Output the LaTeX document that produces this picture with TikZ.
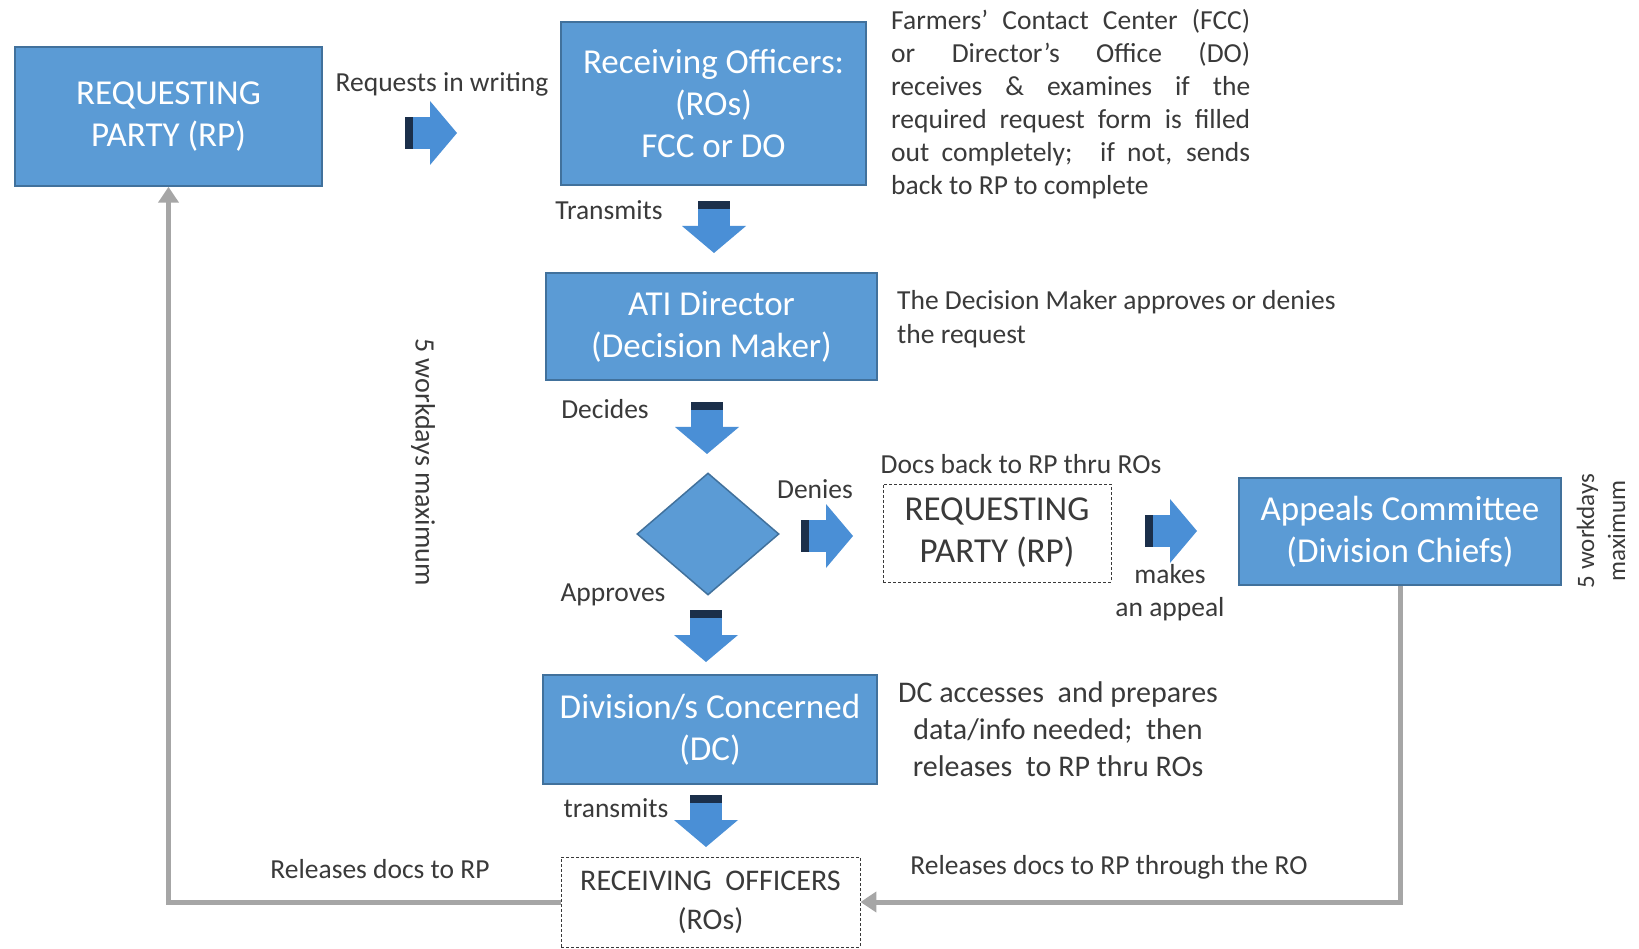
\documentclass[tikz,border=0pt]{standalone}
\usepackage{fontspec}
\setmainfont{Carlito}
\usetikzlibrary{arrows.meta,shapes.geometric}
\definecolor{boxblue}{HTML}{5B9BD5}
\definecolor{boxedge}{HTML}{41719C}
\definecolor{arrblue}{HTML}{4A8FD6}
\definecolor{arrdark}{HTML}{1B2F4A}
\definecolor{txt}{HTML}{3A3A3A}
\definecolor{linegray}{HTML}{A6A6A6}
\begin{document}
\begin{tikzpicture}[x=1pt,y=-1pt,
  bluebox/.style={draw=boxedge, line width=1.5pt, fill=boxblue, text=white, align=center, inner sep=0pt, font=\fontsize{35}{42}\selectfont},
  dashbox/.style={draw=txt, dash pattern=on 3pt off 2pt, line width=0.9pt, text=txt, align=center, inner sep=0pt, font=\fontsize{35}{42}\selectfont},
  lbl/.style={text=txt, inner sep=0pt, font=\fontsize{27.5}{33}\selectfont},
  conn/.style={draw=linegray, line width=5pt, -{Triangle[width=20pt,length=16pt]}},
  pics/blockarrow/.style={code={
     \fill[arrblue] (-26,-16) rectangle (1,16);
     \fill[arrblue] (-1,-32) -- (26,0) -- (-1,32) -- cycle;
     \fill[arrdark] (-26,-16) rectangle (-18,16);
  }}]
\useasboundingbox[fill=white] (0,0) rectangle (1639,949);

% boxes
\node[bluebox, minimum width=307pt, minimum height=139pt] (rp) at (168.5,116.5) {REQUESTING\\PARTY (RP)};
\node[bluebox, minimum width=305pt, minimum height=163pt] (ro) at (713.5,103.5) {Receiving Officers:\\(ROs)\\FCC or DO};
\node[bluebox, minimum width=331pt, minimum height=107pt] (ati) at (711.5,326.5) {ATI Director\\(Decision Maker)};
\node[bluebox, diamond, minimum width=142pt, minimum height=122pt] (dec) at (708,534) {};
\node[dashbox, minimum width=228pt, minimum height=98pt] (rp2) at (997,533) {REQUESTING\\PARTY (RP)};
\node[bluebox, minimum width=322pt, minimum height=107pt] (app) at (1400,531.5) {Appeals Committee\\(Division Chiefs)};
\node[bluebox, minimum width=334pt, minimum height=109pt] (dc) at (710,729.5) {Division/s Concerned\\(DC)};
\node[dashbox, minimum width=299pt, minimum height=90pt, font=\fontsize{30}{39}\selectfont] (ro2) at (710.5,902) {RECEIVING\ \ OFFICERS\\(ROs)};

% block arrows
\pic at (431,133) {blockarrow};
\pic[rotate=-90] at (714,227) {blockarrow};
\pic[rotate=-90] at (707,428) {blockarrow};
\pic at (827,536) {blockarrow};
\pic at (1171,531) {blockarrow};
\pic[rotate=-90] at (706,636) {blockarrow};
\pic[rotate=-90] at (706,821) {blockarrow};

% connectors
\draw[conn] (ro2.west) -| (rp.south);
\draw[conn] (app.south) |- (ro2.east);

% labels
\node[lbl] (l1) at (442,84) {Requests in writing};
\node[lbl] (l2) at (609,210) {Transmits};
\node[lbl] (l3) at (605,409) {Decides};
\node[lbl] (l4) at (815,489) {Denies};
\node[lbl] (l5) at (1021,464) {Docs back to RP thru ROs};
\node[lbl, align=center] (l6) at (1170,593) {makes\\an appeal};
\node[lbl] (l7) at (613,595) {Approves};
\node[lbl] (l8) at (616,808) {transmits};
\node[lbl] (l9) at (380,869) {Releases docs to RP};
\node[lbl] (l10) at (1109,867) {Releases docs to RP through the RO};
\node[lbl, rotate=-90, font=\fontsize{28}{33}\selectfont] (l11) at (423,462) {5 workdays maximum};
\node[lbl, rotate=90, align=center, font=\fontsize{25}{31}\selectfont] (l12) at (1601,531) {5 workdays\\maximum};

\node[lbl, align=left, anchor=west] (p1) at (891,104) {%
\makebox[359pt][s]{Farmers’ Contact Center (FCC)}\\
\makebox[359pt][s]{or Director’s Office (DO)}\\
\makebox[359pt][s]{receives \& examines if the}\\
\makebox[359pt][s]{required request form is filled}\\
\makebox[359pt][s]{out completely; \ if not, sends}\\
back to RP to complete};
\node[lbl, align=left, anchor=west, font=\fontsize{27.5}{34}\selectfont] (p2) at (897,319) {The Decision Maker approves or denies\\the request};
\node[lbl, align=center, font=\fontsize{30}{37}\selectfont] (p3) at (1058,729) {DC accesses \ and prepares\\data/info needed; \ then\\releases \ to RP thru ROs};
\end{tikzpicture}
\end{document}
